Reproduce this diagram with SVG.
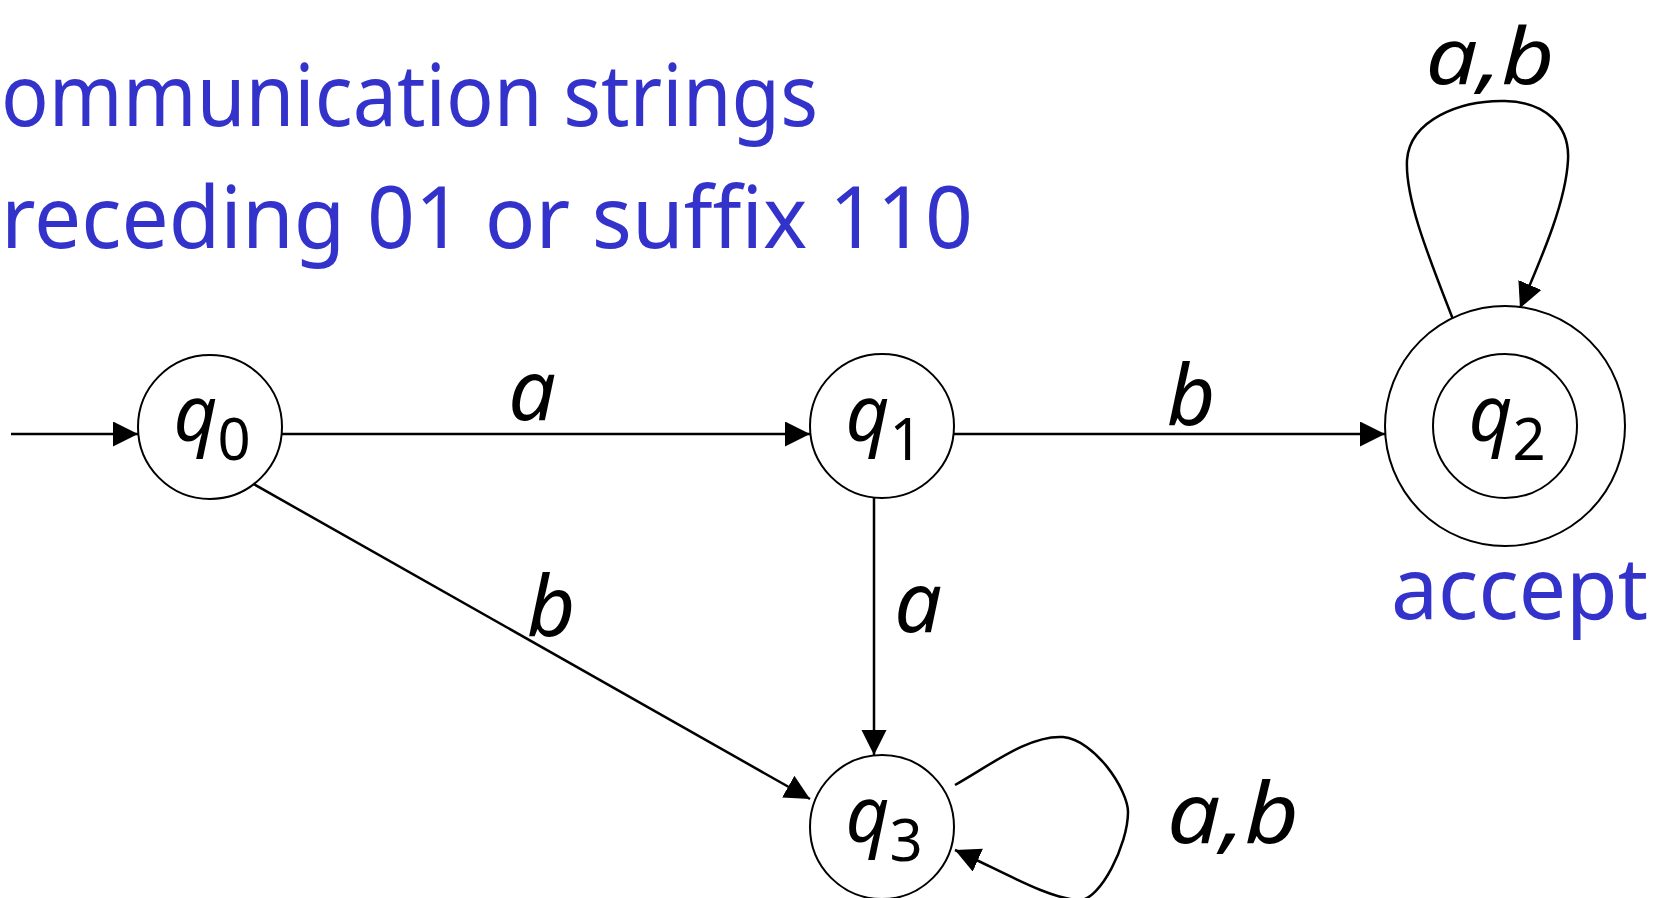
<svg xmlns="http://www.w3.org/2000/svg" width="1667" height="898" viewBox="0 0 1667 898">
<defs>
<marker id="arr" markerUnits="userSpaceOnUse" markerWidth="26" markerHeight="26" refX="25" refY="12.5" orient="auto">
<path d="M0,0 L25,12.5 L0,25 z" fill="#000"/>
</marker>
<style>
.title{font-family:"Noto Sans","DejaVu Sans",sans-serif;font-size:86px;fill:#3333CC}
.lbl{font-family:"Noto Sans","DejaVu Sans",sans-serif;font-style:italic;font-size:84px;fill:#000;text-anchor:middle}
.st{font-family:"Noto Sans","DejaVu Sans",sans-serif;font-size:76px;fill:#000;text-anchor:middle}
.q{font-style:italic}
.sub{font-size:58px}
.node{fill:#fff;stroke:#000;stroke-width:2}
.edge{fill:none;stroke:#000;stroke-width:2.5;marker-end:url(#arr)}
</style>
</defs>
<rect width="1667" height="898" fill="#fff"/>
<text class="title" x="1" y="126" textLength="817" lengthAdjust="spacingAndGlyphs">ommunication strings</text>
<text class="title" x="1" y="248" textLength="972" lengthAdjust="spacingAndGlyphs">receding 01 or suffix 110</text>
<g id="connectors">
<line class="edge" x1="11" y1="434" x2="138" y2="434"/>
<line class="edge" x1="282" y1="434" x2="810" y2="434"/>
<line class="edge" x1="954" y1="434" x2="1385" y2="434"/>
<line class="edge" x1="250" y1="482" x2="810" y2="799"/>
<line class="edge" x1="874" y1="498" x2="874" y2="755"/>
<path class="edge" d="M1454,322 C1430,260 1405,200 1407,160 C1410,120 1460,100 1505,101 C1545,102 1570,125 1568,160 C1566,200 1545,250 1520,308"/>
<path class="edge" d="M955,785 C995,762 1030,735 1063,737 C1095,740 1128,790 1128,812 C1128,845 1100,900 1080,900 C1050,900 1000,870 955,850"/>
<text class="lbl" x="532" y="420">a</text>
<text class="lbl" x="1191" y="425">b</text>
<text class="lbl" x="551" y="636">b</text>
<text class="lbl" x="918" y="632">a</text>
<text class="lbl" x="1490" y="84" style="font-size:78px" textLength="129" lengthAdjust="spacingAndGlyphs">a,b</text>
<text class="lbl" x="1233" y="843" textLength="132" lengthAdjust="spacingAndGlyphs">a,b</text>
</g>
<g id="q0">
<circle class="node" cx="210" cy="427" r="72"/>
<text class="st" x="212" y="441"><tspan class="q">q</tspan><tspan class="sub" dy="19">0</tspan></text>
</g>
<g id="q1">
<circle class="node" cx="882" cy="426" r="72"/>
<text class="st" x="884" y="441"><tspan class="q">q</tspan><tspan class="sub" dy="19">1</tspan></text>
</g>
<g id="q2">
<circle class="node" cx="1505" cy="426" r="120"/>
<circle class="node" cx="1505" cy="426" r="72"/>
<text class="st" x="1507" y="441"><tspan class="q">q</tspan><tspan class="sub" dy="19">2</tspan></text>
<text class="title" x="1391" y="619" textLength="257" lengthAdjust="spacingAndGlyphs">accept</text>
</g>
<g id="q3">
<circle class="node" cx="882" cy="827" r="72"/>
<text class="st" x="884" y="842"><tspan class="q">q</tspan><tspan class="sub" dy="19">3</tspan></text>
</g>
</svg>
